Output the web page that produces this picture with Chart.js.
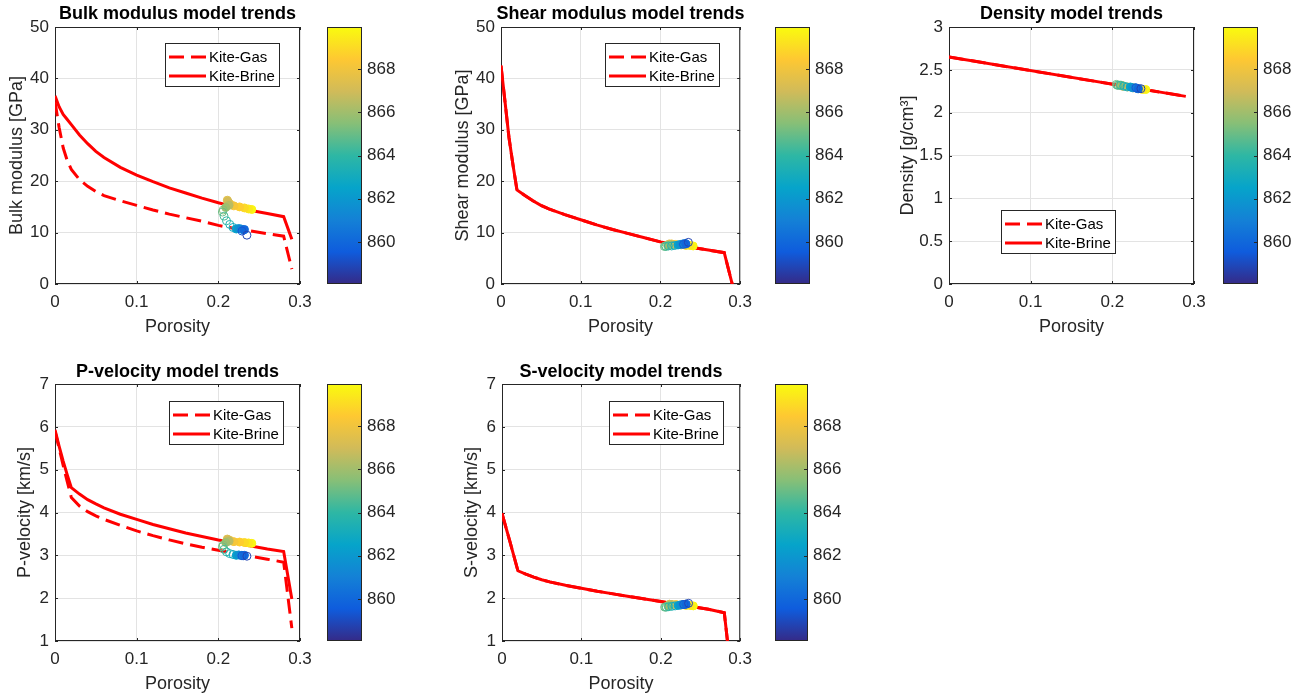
<!DOCTYPE html>
<html>
<head>
<meta charset="utf-8">
<script src="https://cdn.jsdelivr.net/npm/chart.js@4.4.1/dist/chart.umd.min.js"></script>
<style>
  html, body { margin: 0; padding: 0; background: #fff; }
  #wrap { position: relative; width: 1303px; height: 699px; overflow: hidden; }
  canvas { position: absolute; }
</style>
</head>
<body>
<div id="wrap"></div>
<script>
/* ---------- model trend curves (porosity grid) ---------- */
const phiGrid = [0, 0.005, 0.01, 0.015, 0.02, 0.03, 0.04, 0.05, 0.06, 0.08, 0.10,
                 0.12, 0.14, 0.16, 0.18, 0.20, 0.22, 0.24, 0.26, 0.28, 0.29];

const kBrine = [36.6, 34.5, 33.0, 32.0, 31.0, 29.0, 27.3, 25.8, 24.6, 22.7, 21.2,
                19.9, 18.7, 17.7, 16.7, 15.8, 15.0, 14.3, 13.7, 13.1, 8.7];
const kGas   = [35.5, 30.5, 26.5, 24.0, 22.3, 20.3, 19.0, 18.0, 17.2, 16.2, 15.3,
                14.4, 13.6, 12.9, 12.2, 11.4, 10.8, 10.3, 9.8, 9.3, 2.9];

const muBrine = [42.5, 35.5, 28.5, 23.2, 18.3, 17.2, 16.2, 15.3, 14.6, 13.5, 12.5,
                 11.5, 10.6, 9.8, 9.0, 8.2, 7.6, 7.1, 6.6, 6.1, 0];
const muGas   = [42.5, 35.5, 28.5, 23.2, 18.3, 17.2, 16.2, 15.3, 14.6, 13.5, 12.5,
                 11.5, 10.6, 9.8, 9.0, 8.2, 7.6, 7.1, 6.6, 6.1, 0];

const rhoPhi   = [0, 0.29];
const rhoBrine = [2.65, 2.19];
const rhoGas   = [2.65, 2.19];

const vpBrine = [5.93, 5.55, 5.2, 4.88, 4.58, 4.43, 4.30, 4.20, 4.11, 3.96, 3.84,
                 3.72, 3.62, 3.52, 3.44, 3.36, 3.29, 3.22, 3.15, 3.09, 1.98];
const vpGas   = [5.9, 5.5, 5.1, 4.72, 4.35, 4.15, 4.02, 3.92, 3.84, 3.70, 3.57,
                 3.46, 3.36, 3.27, 3.19, 3.12, 3.05, 2.98, 2.91, 2.84, 1.3];

const vsBrine = [3.98, 3.65, 3.32, 2.98, 2.64, 2.56, 2.49, 2.43, 2.38, 2.30, 2.23,
                 2.16, 2.10, 2.04, 1.98, 1.92, 1.86, 1.80, 1.74, 1.66, 0];
const vsGas   = [3.98, 3.65, 3.32, 2.98, 2.64, 2.56, 2.49, 2.43, 2.38, 2.30, 2.23,
                 2.16, 2.10, 2.04, 1.98, 1.92, 1.86, 1.80, 1.74, 1.66, 0];

/* ---------- well log samples (coloured by depth) ---------- */
const depth = [869.8, 869.4, 869.0, 868.6, 868.2, 867.8, 867.4, 867.0, 866.5, 866.0, 865.5, 865.0,
               864.5, 864.0, 863.5, 863.0, 862.4, 861.8, 861.2, 860.6, 860.0, 859.4, 858.8];
const logPhi = [0.241, 0.237, 0.232, 0.226, 0.219, 0.214, 0.211, 0.212, 0.213, 0.209, 0.206, 0.205,
                0.207, 0.210, 0.214, 0.218, 0.222, 0.225, 0.228, 0.231, 0.232, 0.229, 0.235];
const filled = [1, 1, 1, 1, 1, 1, 1, 1, 1, 1, 0, 0, 0, 0, 0, 0, 1, 1, 1, 1, 1, 0, 0];
const logK   = [14.5, 14.6, 14.8, 15.0, 15.2, 15.6, 16.3, 16.0, 15.3, 14.9, 14.4, 14.0,
                13.2, 12.3, 11.6, 11.0, 10.7, 10.8, 10.7, 10.5, 10.6, 10.3, 9.5];
const logMu  = [7.4, 7.5, 7.5, 7.6, 7.7, 7.8, 7.8, 7.7, 7.6, 7.5, 7.4, 7.3,
                7.3, 7.4, 7.4, 7.5, 7.6, 7.7, 7.8, 7.9, 7.8, 7.7, 8.1];
const logRho = [2.27, 2.27, 2.28, 2.29, 2.30, 2.31, 2.32, 2.31, 2.31, 2.32, 2.32, 2.33,
                2.32, 2.32, 2.31, 2.30, 2.30, 2.29, 2.29, 2.28, 2.28, 2.29, 2.28];
const logVp  = [3.28, 3.29, 3.30, 3.31, 3.32, 3.35, 3.38, 3.36, 3.33, 3.30, 3.24, 3.20,
                3.14, 3.08, 3.04, 3.02, 3.00, 3.01, 3.00, 2.99, 3.00, 2.99, 2.98];
const logVs  = [1.82, 1.83, 1.83, 1.84, 1.85, 1.85, 1.86, 1.85, 1.84, 1.82, 1.80, 1.79,
                1.79, 1.80, 1.81, 1.82, 1.83, 1.84, 1.85, 1.86, 1.86, 1.85, 1.88];

/* ---------- ticks ---------- */
const phiTicks = [0, 0.1, 0.2, 0.3];
const modTicks = [0, 10, 20, 30, 40, 50];
const rhoTicks = [0, 0.5, 1, 1.5, 2, 2.5, 3];
const velTicks = [1, 2, 3, 4, 5, 6, 7];
const depthTicks = [860, 862, 864, 866, 868];
const depthMin = 858.05, depthMax = 869.95;

/* ---------- helpers ---------- */
const parula = ['#352a87', '#0f5cdd', '#1481d6', '#06a4ca', '#2eb7a4',
                '#87bf77', '#d1bb59', '#fec832', '#f9fb0e'];
const FONT = '"Liberation Sans", Arial, Helvetica, sans-serif';
const AXC = '#262626';
Chart.defaults.font.family = FONT;
Chart.defaults.color = AXC;

function hex(h) { return [1, 3, 5].map(i => parseInt(h.substr(i, 2), 16)); }
function depthColor(d) {
  let t = (d - depthMin) / (depthMax - depthMin);
  t = Math.max(0, Math.min(1, t)) * (parula.length - 1);
  const i = Math.min(Math.floor(t), parula.length - 2), f = t - i;
  const a = hex(parula[i]), b = hex(parula[i + 1]);
  const c = a.map((v, k) => Math.round(v + (b[k] - v) * f));
  return `rgb(${c[0]},${c[1]},${c[2]})`;
}

const wrap = document.getElementById('wrap');
function addCanvas(L, T, W, H) {
  const c = document.createElement('canvas');
  c.width = W; c.height = H;
  c.style.left = L + 'px'; c.style.top = T + 'px';
  c.style.width = W + 'px'; c.style.height = H + 'px';
  wrap.appendChild(c);
  return c;
}

/* axes box, inner ticks, titles, legend */
const decor = {
  id: 'decor',
  beforeDatasetsDraw(chart, args, o) {
    const { ctx, chartArea: a } = chart;
    ctx.save();
    ctx.strokeStyle = AXC; ctx.lineWidth = 1;
    ctx.strokeRect(a.left + 0.5, a.top + 0.5, a.width - 1, a.height - 1);
    const xs = chart.scales.x, ys = chart.scales.y;
    ctx.beginPath();
    xs.ticks.forEach(t => {
      const px = Math.round(xs.getPixelForValue(t.value)) + 0.5;
      ctx.moveTo(px, a.bottom); ctx.lineTo(px, a.bottom - 3);
      ctx.moveTo(px, a.top); ctx.lineTo(px, a.top + 3);
    });
    ys.ticks.forEach(t => {
      const py = Math.round(ys.getPixelForValue(t.value)) + 0.5;
      ctx.moveTo(a.left, py); ctx.lineTo(a.left + 3, py);
      ctx.moveTo(a.right, py); ctx.lineTo(a.right - 3, py);
    });
    ctx.stroke();
    ctx.restore();
  },
  afterDraw(chart, args, o) {
    const { ctx, chartArea: a } = chart;
    const cx = (a.left + a.right) / 2, cy = (a.top + a.bottom) / 2;
    ctx.save();
    ctx.textAlign = 'center'; ctx.textBaseline = 'middle';
    ctx.fillStyle = '#000';
    ctx.font = 'bold 18px ' + FONT;
    ctx.fillText(o.title, cx, a.top - o.titleGap);
    ctx.fillStyle = AXC;
    ctx.font = '18px ' + FONT;
    ctx.fillText('Porosity', cx, a.bottom + 43);
    ctx.save();
    ctx.translate(a.left - o.yGap, cy);
    ctx.rotate(-Math.PI / 2);
    ctx.fillText(o.ylabel, 0, 0);
    ctx.restore();

    // legend
    const lg = o.legend;
    ctx.font = '15px ' + FONT;
    const tw = Math.max(ctx.measureText('Kite-Gas').width, ctx.measureText('Kite-Brine').width);
    const bw = Math.round(4 + 37 + 3 + tw + 4), bh = 43;
    const bx = Math.round(lg.side === 'tr' ? a.right - lg.dx - bw : a.left + lg.dx);
    const by = Math.round(lg.side === 'tr' ? a.top + lg.dy : a.bottom - lg.dy - bh);
    ctx.fillStyle = '#fff';
    ctx.fillRect(bx, by, bw, bh);
    ctx.strokeStyle = AXC; ctx.lineWidth = 1;
    ctx.strokeRect(bx + 0.5, by + 0.5, bw, bh);
    const rows = [['Kite-Gas', [15, 7], 14], ['Kite-Brine', [], 33]];
    rows.forEach(([txt, dash, dy]) => {
      ctx.beginPath();
      ctx.strokeStyle = '#ff0000'; ctx.lineWidth = 3;
      ctx.setLineDash(dash);
      ctx.moveTo(bx + 4, by + dy); ctx.lineTo(bx + 41, by + dy);
      ctx.stroke();
      ctx.setLineDash([]);
      ctx.fillStyle = '#000';
      ctx.textAlign = 'left';
      ctx.fillText(txt, bx + 44, by + dy + 1);
    });
    ctx.restore();
  }
};

function makePlot(p) {
  const c = addCanvas(p.L, p.T, p.W, p.H);
  const pts = logPhi.map((x, i) => ({ x: x, y: p.logVals[i] }));
  const cols = depth.map(depthColor);
  new Chart(c.getContext('2d'), {
    type: 'scatter',
    data: {
      datasets: [
        {
          data: pts,
          pointRadius: 4,
          pointBorderWidth: 1,
          pointBorderColor: cols,
          pointBackgroundColor: cols.map((col, i) => filled[i] ? col : 'rgba(0,0,0,0)'),
          showLine: false
        },
        {
          data: p.phi.map((x, i) => ({ x: x, y: p.brine[i] })),
          showLine: true, pointRadius: 0, borderColor: '#ff0000', borderWidth: 3
        },
        {
          data: p.phi.map((x, i) => ({ x: x, y: p.gas[i] })),
          showLine: true, pointRadius: 0, borderColor: '#ff0000', borderWidth: 3,
          borderDash: [15, 7]
        }
      ]
    },
    options: {
      responsive: false,
      animation: false,
      devicePixelRatio: 1,
      layout: { padding: { left: 0, top: p.ax.t - p.T, right: p.L + p.W - p.ax.r, bottom: 0 } },
      plugins: {
        legend: { display: false },
        tooltip: { enabled: false },
        decor: { title: p.title, ylabel: p.ylabel, yGap: p.yGap, titleGap: p.titleGap, legend: p.legend }
      },
      scales: {
        x: {
          type: 'linear', min: 0, max: 0.3,
          afterBuildTicks: s => { s.ticks = phiTicks.map(v => ({ value: v })); },
          afterFit: s => { s.height = p.T + p.H - p.ax.b; },
          ticks: { font: { size: 17 }, color: AXC, padding: 8, maxRotation: 0, autoSkip: false,
                   callback: v => String(v) },
          grid: { color: '#e3e3e3', drawTicks: false },
          border: { display: false }
        },
        y: {
          type: 'linear', min: p.yMin, max: p.yMax,
          afterBuildTicks: s => { s.ticks = p.yTicks.map(v => ({ value: v })); },
          afterFit: s => { s.width = p.ax.l - p.L; },
          ticks: { font: { size: 17 }, color: AXC, padding: 6, autoSkip: false,
                   callback: v => String(v) },
          grid: { color: '#e3e3e3', drawTicks: false },
          border: { display: false }
        }
      }
    },
    plugins: [decor]
  });
}

const cbOutline = {
  id: 'cbOutline',
  afterDraw(chart) {
    const { ctx, chartArea: a } = chart;
    const ys = chart.scales.y;
    ctx.save();
    ctx.strokeStyle = AXC; ctx.lineWidth = 1;
    ctx.strokeRect(a.left + 0.5, a.top + 0.5, a.width - 1, a.height - 1);
    ctx.beginPath();
    ys.ticks.forEach(t => {
      const py = Math.round(ys.getPixelForValue(t.value)) + 0.5;
      ctx.moveTo(a.right, py); ctx.lineTo(a.right - 4, py);
    });
    ctx.stroke();
    ctx.restore();
  }
};

function makeColorbar(b) {
  const c = addCanvas(b.L, b.T, b.W, b.H);
  new Chart(c.getContext('2d'), {
    type: 'bar',
    data: {
      labels: [''],
      datasets: [{
        data: [[depthMin, depthMax]],
        barPercentage: 1, categoryPercentage: 1, borderWidth: 0, borderSkipped: false,
        backgroundColor: ctx => {
          const a = ctx.chart.chartArea;
          if (!a) return parula[4];
          const g = ctx.chart.ctx.createLinearGradient(0, a.bottom, 0, a.top);
          parula.forEach((col, i) => g.addColorStop(i / (parula.length - 1), col));
          return g;
        }
      }]
    },
    options: {
      responsive: false,
      animation: false,
      devicePixelRatio: 1,
      layout: { padding: { left: b.l - b.L, top: b.t - b.T, right: 0, bottom: b.T + b.H - b.b } },
      plugins: { legend: { display: false }, tooltip: { enabled: false } },
      scales: {
        x: { display: false },
        y: {
          position: 'right', min: depthMin, max: depthMax,
          afterBuildTicks: s => { s.ticks = depthTicks.map(v => ({ value: v })); },
          afterFit: s => { s.width = b.L + b.W - b.r; },
          ticks: { font: { size: 17 }, color: AXC, padding: 5, callback: v => String(v) },
          grid: { display: false, drawTicks: false },
          border: { display: false }
        }
      }
    },
    plugins: [cbOutline]
  });
}

/* ---------- subplots ---------- */
makePlot({ L: 0, T: 0, W: 320, H: 345, ax: { l: 55, r: 300, t: 27, b: 284 },
  yMin: 0, yMax: 50, yTicks: modTicks, phi: phiGrid, brine: kBrine, gas: kGas, logVals: logK,
  title: 'Bulk modulus model trends', ylabel: 'Bulk modulus [GPa]', yGap: 38, titleGap: 13,
  legend: { side: 'tr', dx: 21, dy: 16 } });

makePlot({ L: 440, T: 0, W: 320, H: 345, ax: { l: 501, r: 747, t: 27, b: 284 },
  yMin: 0, yMax: 50, yTicks: modTicks, phi: phiGrid, brine: muBrine, gas: muGas, logVals: logMu,
  title: 'Shear modulus model trends', ylabel: 'Shear modulus [GPa]', yGap: 38, titleGap: 13,
  legend: { side: 'tr', dx: 21, dy: 16 } });

makePlot({ L: 890, T: 0, W: 325, H: 345, ax: { l: 949, r: 1194, t: 27, b: 284 },
  yMin: 0, yMax: 3, yTicks: rhoTicks, phi: rhoPhi, brine: rhoBrine, gas: rhoGas, logVals: logRho,
  title: 'Density model trends', ylabel: 'Density [g/cm³]', yGap: 41, titleGap: 13,
  legend: { side: 'bl', dx: 52, dy: 31 } });

makePlot({ L: 0, T: 350, W: 320, H: 349, ax: { l: 55, r: 300, t: 384, b: 641 },
  yMin: 1, yMax: 7, yTicks: velTicks, phi: phiGrid, brine: vpBrine, gas: vpGas, logVals: logVp,
  title: 'P-velocity model trends', ylabel: 'P-velocity [km/s]', yGap: 30, titleGap: 12,
  legend: { side: 'tr', dx: 17, dy: 17 } });

makePlot({ L: 440, T: 350, W: 320, H: 349, ax: { l: 502, r: 747, t: 384, b: 641 },
  yMin: 1, yMax: 7, yTicks: velTicks, phi: phiGrid, brine: vsBrine, gas: vsGas, logVals: logVs,
  title: 'S-velocity model trends', ylabel: 'S-velocity [km/s]', yGap: 30, titleGap: 12,
  legend: { side: 'tr', dx: 17, dy: 17 } });

/* ---------- colorbars ---------- */
makeColorbar({ L: 320, T: 0, W: 110, H: 345, l: 327, r: 362, t: 27, b: 284 });
makeColorbar({ L: 765, T: 0, W: 110, H: 345, l: 775, r: 810, t: 27, b: 284 });
makeColorbar({ L: 1215, T: 0, W: 88, H: 345, l: 1223, r: 1258, t: 27, b: 284 });
makeColorbar({ L: 320, T: 350, W: 110, H: 349, l: 327, r: 362, t: 384, b: 641 });
makeColorbar({ L: 765, T: 350, W: 110, H: 349, l: 775, r: 808, t: 384, b: 641 });
</script>
</body>
</html>
